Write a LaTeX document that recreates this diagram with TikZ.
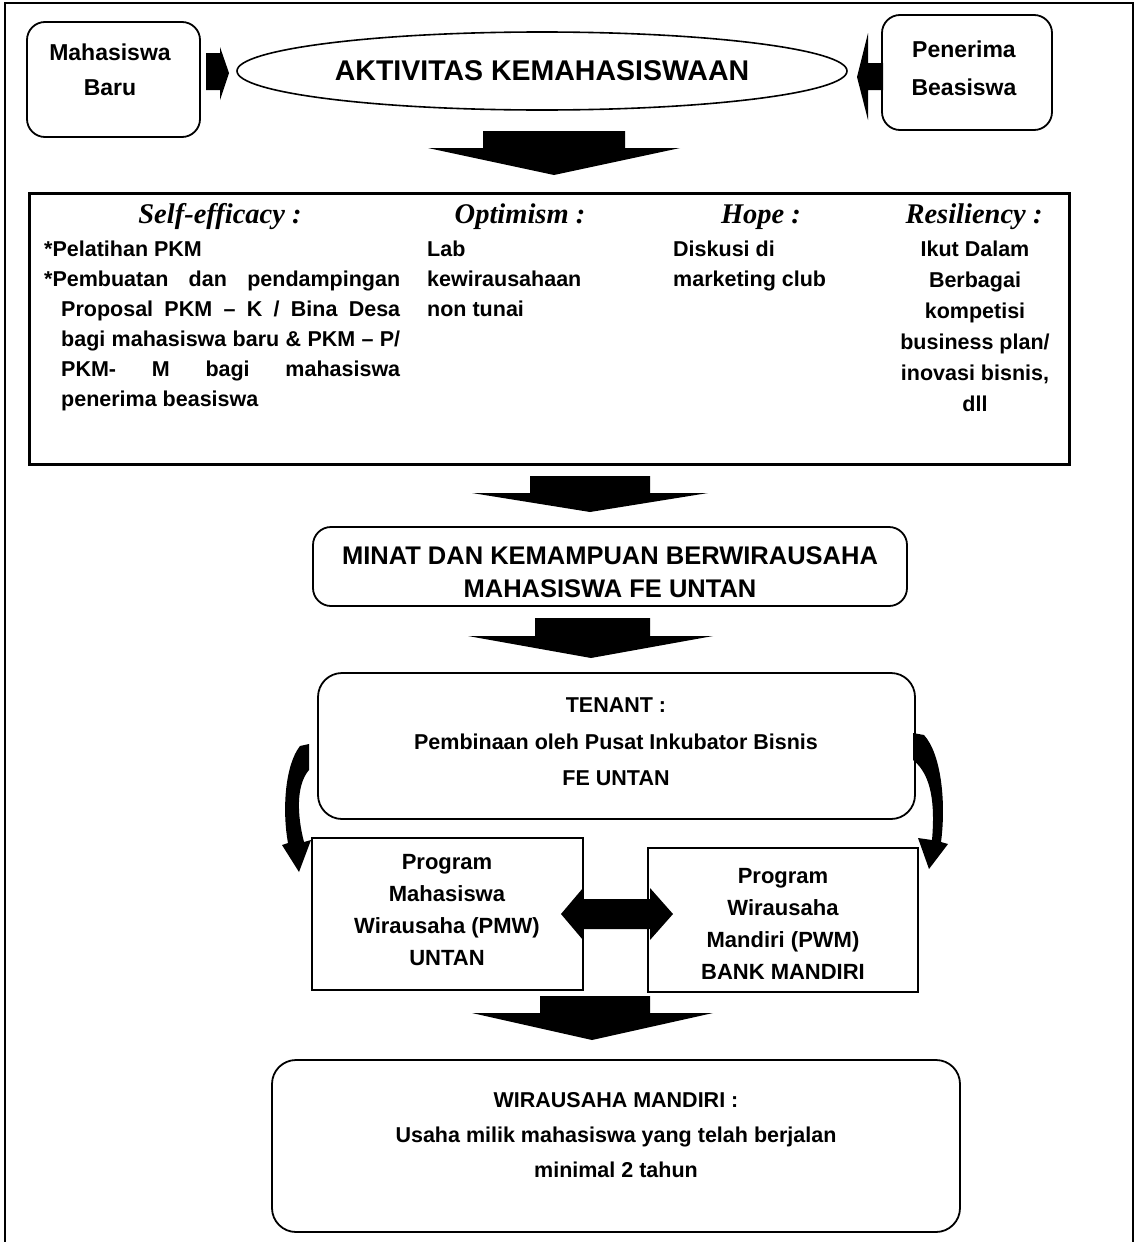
\documentclass[tikz,border=0pt]{standalone}
\usepackage{fontspec}
\setmainfont{Liberation Sans}
\newfontfamily\hdfont{Liberation Serif}
\usetikzlibrary{shapes.geometric}
\begin{document}
\begin{tikzpicture}[x=1pt,y=-1pt,
  rbox/.style={draw, line width=1.8pt, rounded corners=18pt, inner sep=0, minimum width=#1},
  sbox/.style={draw, line width=1.8pt, inner sep=0},
  ttl/.style={inner sep=0, align=center},
  ln/.style={inner sep=0, anchor=base west, font=\bfseries\fontsize{21.5}{30}\selectfont},
  lnc/.style={inner sep=0, anchor=base, font=\bfseries\fontsize{21.5}{30}\selectfont},
  hd/.style={inner sep=0, anchor=base, font=\hdfont\bfseries\itshape\fontsize{28.5}{32}\selectfont},
  blk/.style={fill=black}]
\useasboundingbox (0,0) rectangle (1135,1242);
% outer frame
\draw[line width=2pt] (5,1242) -- (5,3) -- (1133,3) -- (1133,1242);

% top row
\node[rbox=173pt, minimum height=115pt] (mb) at (113.5,79.5) {};
\node[ttl, font=\bfseries\fontsize{23}{35}\selectfont] (mbT) at (110,70) {Mahasiswa\\Baru};
\node[rbox=170pt, minimum height=115pt] (pb) at (967,72.5) {};
\node[ttl, font=\bfseries\fontsize{23}{38}\selectfont] (pbT) at (964,68) {Penerima\\Beasiswa};
\node[ellipse, draw, line width=1.6pt, minimum width=610pt, minimum height=78pt, inner sep=0,
      font=\bfseries\fontsize{28.5}{30}\selectfont] (ell) at (542,71) {AKTIVITAS KEMAHASISWAAN};

% side arrows
\fill[blk] (206,53) -- (220,53) -- (220,47) -- (229,73) -- (220,100) -- (220,90) -- (206,90) -- cycle;
\fill[blk] (883,63) -- (868,63) -- (868,33) -- (857,77) -- (868,120) -- (868,90) -- (883,90) -- cycle;

% arrow 1
\fill[blk] (483,131) -- (625,131) -- (625,148) -- (680,148) -- (554,175) -- (428,148) -- (483,148) -- cycle;

% big box
\node[sbox, line width=3pt, minimum width=1040pt, minimum height=271pt] (big) at (549,328.5) {};
\node[hd] (h1) at (220,223) {Self-efficacy :};
\node[hd] (h2) at (520,223) {Optimism :};
\node[hd] (h3) at (761,223) {Hope :};
\node[hd] (h4) at (974,223) {Resiliency :};

\node[ln] (se1) at (44,256) {*Pelatihan PKM};
\node[ln] (se2) at (44,286) {\makebox[356pt][s]{*Pembuatan dan pendampingan}};
\node[ln] (se3) at (61,316) {\makebox[339pt][s]{Proposal PKM – K / Bina Desa}};
\node[ln] (se4) at (61,346) {\makebox[339pt][s]{bagi mahasiswa baru \& PKM – P/}};
\node[ln] (se5) at (61,376) {\makebox[339pt][s]{PKM- M bagi mahasiswa}};
\node[ln] (se6) at (61,406) {penerima beasiswa};

\node[ln] (op1) at (427,256) {Lab};
\node[ln] (op2) at (427,286) {kewirausahaan};
\node[ln] (op3) at (427,316) {non tunai};

\node[ln] (ho1) at (673,256) {Diskusi di};
\node[ln] (ho2) at (673,286) {marketing club};

\node[lnc] (re1) at (975,256) {Ikut Dalam};
\node[lnc] (re2) at (975,287) {Berbagai};
\node[lnc] (re3) at (975,318) {kompetisi};
\node[lnc] (re4) at (975,349) {business plan/};
\node[lnc] (re5) at (975,380) {inovasi bisnis,};
\node[lnc] (re6) at (975,411) {dll};

% arrow 2
\fill[blk] (530,476) -- (650,476) -- (650,493) -- (708,493) -- (590,512) -- (472,493) -- (530,493) -- cycle;

% minat
\node[rbox=594pt, minimum height=79pt] (minat) at (610,566.5) {};
\node[ttl, font=\bfseries\fontsize{25.5}{33}\selectfont] (minatT) at (610,572) {MINAT DAN KEMAMPUAN BERWIRAUSAHA\\MAHASISWA FE UNTAN};

% arrow 3
\fill[blk] (535,618) -- (650,618) -- (650,636) -- (713,636) -- (591,658) -- (468,636) -- (535,636) -- cycle;

% tenant
\node[rbox=597pt, minimum height=146pt, rounded corners=24pt] (tenant) at (616.5,746) {};
\node[ttl, font=\bfseries\fontsize{21.5}{36.5}\selectfont] (tenantT) at (616,742) {TENANT :\\Pembinaan oleh Pusat Inkubator Bisnis\\FE UNTAN};

% curved arrows
\fill[blk] (309,744) -- (300,746) .. controls (285,765) and (282,810) .. (288,843)
  -- (282,845) -- (299,872) -- (311,840) -- (304,842)
  .. controls (297,815) and (296,785) .. (309,770) -- cycle;
\fill[blk] (913,733) -- (924,735) .. controls (942,755) and (946,805) .. (941,842)
  -- (948,844) -- (929,869) -- (918,838) -- (932,840)
  .. controls (935,805) and (932,775) .. (913,760) -- cycle;

% program boxes
\node[sbox, minimum width=271pt, minimum height=152pt] (pmw) at (447.5,914) {};
\node[ttl, font=\bfseries\fontsize{22}{32}\selectfont] (pmwT) at (447,910) {Program\\Mahasiswa\\Wirausaha (PMW)\\UNTAN};
\node[sbox, minimum width=270pt, minimum height=144pt] (pwm) at (783,920) {};
\node[ttl, font=\bfseries\fontsize{22}{32}\selectfont] (pwmT) at (783,924) {Program\\Wirausaha\\Mandiri (PWM)\\BANK MANDIRI};

% double arrow
\fill[blk] (561,914) -- (583,888) -- (583,899) -- (650,899) -- (650,888) -- (673,914)
  -- (650,940) -- (650,929) -- (583,929) -- (583,940) -- cycle;

% arrow 4
\fill[blk] (540,996) -- (650,996) -- (650,1013) -- (713,1013) -- (592,1040) -- (472,1013) -- (540,1013) -- cycle;

% wirausaha mandiri
\node[rbox=688pt, minimum height=172pt, rounded corners=24pt] (wm) at (616,1146) {};
\node[ttl, font=\bfseries\fontsize{21.5}{35}\selectfont] (wmT) at (616,1135) {WIRAUSAHA MANDIRI :\\Usaha milik mahasiswa yang telah berjalan\\minimal 2 tahun};
\end{tikzpicture}
\end{document}
